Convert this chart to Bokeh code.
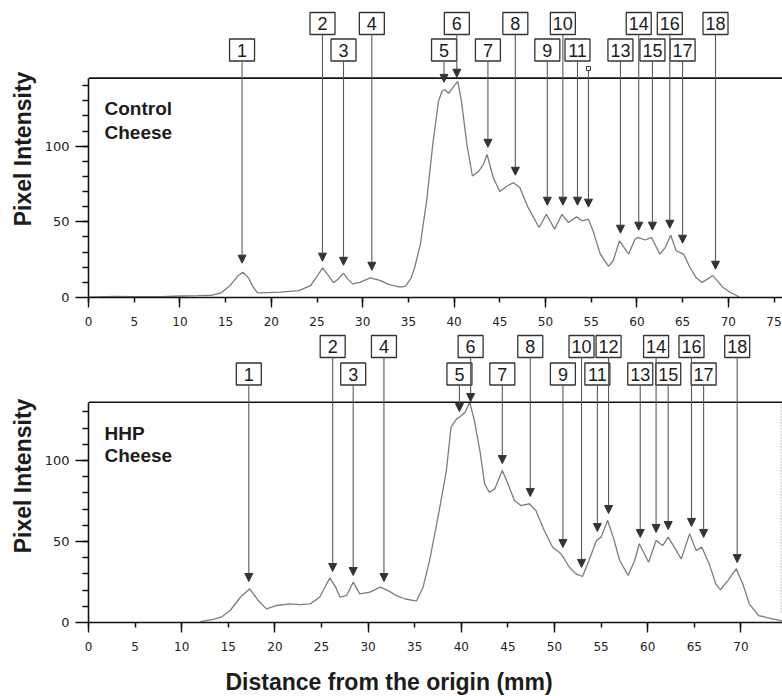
import math
from bokeh.plotting import figure
from bokeh.models import (ColumnDataSource, Range1d, FixedTicker, LinearAxis,
                          Span, Label, Arrow, NormalHead, Title)
from bokeh.core.properties import value
from bokeh.layouts import column
from bokeh.embed import file_html
from bokeh.resources import INLINE

# ---------------- data ----------------
ctrl_x = [0, 3, 5, 8, 10, 12, 13.5, 14.5, 15.5, 16.3, 16.9, 17.5, 18.0, 18.5, 19.5, 21, 23, 24.3,
          25.0, 25.6, 26.2, 26.8, 27.3, 27.9, 28.4, 28.9, 29.7, 30.8, 31.8, 32.9, 34.1, 34.7, 35.3,
          35.7, 36.3, 37.0, 37.7, 38.3, 38.7, 39.0, 39.4, 39.9, 40.4, 40.8, 41.4, 42.0, 42.7, 43.2,
          43.6, 44.3, 45.0, 45.8, 46.5, 47.2, 48.1, 49.3, 50.1, 51.0, 51.8, 52.5, 53.4, 54.0, 54.7,
          55.2, 56.0, 56.9, 57.4, 58.1, 59.1, 59.8, 60.1, 60.9, 61.6, 62.5, 63.1, 63.7, 64.3, 65.1,
          65.8, 66.5, 67.1, 67.8, 68.3, 68.8, 69.4, 70.2, 70.9, 71.2]
ctrl_y = [0.3, 0.8, 0.5, 0.6, 1.0, 1.2, 1.5, 3, 8, 14, 16.7, 13, 7, 3, 3.2, 3.5, 4.5, 7.9,
          14, 19.5, 15, 9.8, 12, 16, 12, 9, 10, 13, 11.5, 8.5, 6.8, 7.5, 13,
          20, 35, 64, 103, 130, 136.6, 137.3, 135, 139, 142.8, 130, 101, 80.3, 83.5, 88,
          94.5, 79, 70, 73.7, 75.9, 72.6, 59.4, 46.3, 55, 45.2, 55, 49.6, 53.3, 50.7, 51.8,
          44, 28.7, 20.6, 24.3, 37.5, 28.7, 38.6, 39.7, 38, 39.7, 28.7, 33, 41.2, 30.9, 28.7,
          20, 13, 10, 12.5, 14.5, 11, 6.8, 3.5, 1.3, 0.5]

hhp_x = [12.0, 13.4, 14.3, 15.2, 16.3, 17.3, 18.2, 19.1, 20.2, 21.6, 22.7, 23.8, 24.8, 25.9, 26.5,
         27.0, 27.7, 28.4, 29.1, 30.2, 31.3, 32.2, 33.0, 34.0, 34.8, 35.2, 35.9, 36.6, 37.5, 38.4,
         38.9, 39.5, 39.8, 40.4, 40.9, 41.4, 42.0, 42.5, 43.0, 43.6, 44.4, 45.0, 45.7, 46.4, 47.3,
         48.0, 48.9, 49.8, 50.7, 51.6, 52.3, 53.0, 53.7, 54.5, 55.0, 55.7, 56.3, 57.0, 57.9, 58.6,
         59.1, 60.1, 60.9, 61.6, 62.2, 63.6, 64.5, 65.2, 65.8, 66.6, 67.3, 67.8, 68.6, 69.5, 70.2,
         70.9, 71.9, 73.4, 74.4]
hhp_y = [0.5, 1.9, 3.5, 7.4, 15.6, 20.8, 13.6, 8.4, 10.5, 11.5, 11, 11.5, 15.6, 27.6, 22,
         15.6, 16.7, 24.9, 17.7, 18.7, 21.8, 19.5, 16.7, 14.5, 13.6, 13.4, 21.8, 38.3, 65, 93.8,
         120.6, 125.7, 126.7, 129.8, 136, 124.7, 106, 85.6, 80.4, 82.5, 93.8, 85.6, 75.3, 72.2, 73.3,
         69.1, 56.8, 46.5, 42.4, 34.1, 30, 28.4, 38.3, 50.6, 52.7, 63, 52.7, 38.3, 29, 38.3,
         48.6, 37.2, 50.6, 47.5, 52.7, 39.3, 54.7, 44.4, 46.5, 36.2, 23.9, 20.2, 25.9, 33.1, 23.9,
         11.5, 4.3, 2.3, 1.0]

peak_labels = [str(i) for i in range(1, 19)]

ctrl_peak_x = [16.8, 25.6, 27.9, 31.0, 38.9, 40.3, 43.7, 46.7, 50.2, 51.9, 53.5, 54.7,
               58.2, 60.2, 61.7, 63.6, 65.0, 68.6]
ctrl_tip_y = [22.7, 24.0, 21.3, 18.0, 142.2, 145.6, 99.3, 80.8, 61.0, 61.0, 61.0, 59.7,
              42.5, 44.5, 44.5, 45.8, 35.9, 18.7]
# 0 = upper row of boxes, 1 = lower row, -1 = no box (small marker only)
ctrl_row = [1, 0, 1, 0, 1, 0, 1, 0, 1, 0, 1, -1, 1, 0, 1, 0, 1, 0]

hhp_peak_x = [17.2, 26.2, 28.4, 31.7, 39.8, 41.0, 44.4, 47.4, 50.9, 52.9, 54.6, 55.8,
              59.2, 60.9, 62.2, 64.7, 66.0, 69.6]
hhp_tip_y = [25.3, 31.5, 29.0, 25.3, 130.2, 136.4, 98.1, 77.8, 46.3, 34.0, 56.2, 67.3,
             52.5, 55.6, 57.4, 59.3, 52.5, 37.0]
hhp_row = [1, 0, 1, 0, 1, 0, 1, 0, 1, 0, 1, 0, 1, 0, 1, 0, 1, 0]

ctrl_xticks = list(range(0, 80, 5))
hhp_xticks = list(range(0, 75, 5))
y_major = [0, 50, 100]
ctrl_ymax = 145
hhp_ymax = 136
ctrl_name = ["Control", "Cheese"]
hhp_name = ["HHP", "Cheese"]
x_title = "Distance from the origin (mm)"
y_title = "Pixel Intensity"

AX = "#111111"
TXT = "#1c1c1c"
FRAME_W = 694


def make_panel(cx, cy, px, tip, rows, ymax, xticks, xppu, ppu, frame_h, border_bottom,
               row_px, marker_px, name, name_base, xtitle_left_px=None, right_edge=False):
    y_end = frame_h / ppu
    x_end = FRAME_W / xppu
    p = figure(frame_width=FRAME_W, frame_height=frame_h, output_backend="svg",
               toolbar_location=None, x_range=Range1d(0, x_end), y_range=Range1d(0, y_end),
               min_border_left=88, min_border_right=0, min_border_top=0,
               min_border_bottom=border_bottom)
    p.outline_line_color = None
    p.xgrid.visible = False
    p.ygrid.visible = False
    p.background_fill_color = "white"
    p.border_fill_color = "white"

    # y axis
    ya = p.yaxis[0]
    ya.bounds = (0, ymax)
    ya.ticker = FixedTicker(ticks=y_major, minor_ticks=list(range(10, ymax, 10)))
    ya.major_tick_out = 13
    ya.major_tick_in = 0
    ya.minor_tick_out = 6
    ya.minor_tick_in = 0
    ya.major_label_standoff = 6
    ya.axis_label = y_title
    ya.axis_label_standoff = 6
    ya.axis_label_text_font = "Liberation Sans"
    ya.axis_label_text_font_style = "bold"
    ya.axis_label_text_font_size = "23px"
    ya.axis_label_text_color = TXT
    # x axis: labelled short ticks every 5, longer ticks every 10 (drawn as "minor")
    xa = p.xaxis[0]
    xa.ticker = FixedTicker(ticks=xticks, minor_ticks=xticks[::2])
    xa.major_tick_out = 5
    xa.major_tick_in = 0
    xa.minor_tick_out = 10
    xa.minor_tick_in = 0
    xa.major_label_standoff = 9
    for a in (xa, ya):
        a.axis_line_color = AX
        a.axis_line_width = 1.6
        a.major_tick_line_color = AX
        a.major_tick_line_width = 1.5
        a.minor_tick_line_color = AX
        a.minor_tick_line_width = 1.4
        a.major_label_text_font = "DejaVu Sans"
        a.major_label_text_color = "#222222"
    xa.major_label_text_font_size = "12px"
    ya.major_label_text_font_size = "13px"

    if xtitle_left_px is not None:
        # invisible spacer axis that pushes the x title further down
        spacer = LinearAxis(ticker=FixedTicker(ticks=[xticks[0]], minor_ticks=[]),
                            major_tick_out=13, major_tick_in=0, minor_tick_out=0,
                            minor_tick_in=0, major_label_standoff=0,
                            axis_line_color=None, major_tick_line_color=None,
                            minor_tick_line_color=None, major_label_text_color=None,
                            major_label_text_font_size="1px")
        p.add_layout(spacer, "below")
        p.add_layout(Title(text=x_title, align="left", offset=xtitle_left_px,
                           text_font="Liberation Sans", text_font_style="bold",
                           text_font_size="23px", text_color=TXT, standoff=0), "below")

    p.add_layout(Span(location=ymax, dimension="width", line_color=AX, line_width=1.6))

    if right_edge:
        p.segment(x0=[x_end - 0.15], y0=[6], x1=[x_end - 0.15], y1=[ymax],
                  line_color="#c4c4c4", line_width=1, line_dash="2 1")

    # profile
    p.line(cx, cy, line_color="#7c7c7c", line_width=1.3)

    # boxes and arrows
    def ydata(pix):
        return y_end - pix / ppu

    bx, by, bl, ax0, ay0, ax1, ay1, mx, my = [], [], [], [], [], [], [], [], []
    for x, t, r, lab in zip(px, tip, rows, peak_labels):
        if r >= 0:
            c = row_px[r]
            bx.append(x)
            by.append(ydata(c))
            bl.append(lab)
            start = ydata(c + 11)
        else:
            mx.append(x)
            my.append(ydata(marker_px))
            start = ydata(marker_px + 2)
        ax0.append(x)
        ay0.append(start)
        ax1.append(x)
        ay1.append(t)

    asrc = ColumnDataSource(dict(x0=ax0, y0=ay0, x1=ax1, y1=ay1))
    p.add_layout(Arrow(x_start="x0", y_start="y0", x_end="x1", y_end="y1", source=asrc,
                       line_color="#5a5a5a", line_width=1.1,
                       end=NormalHead(size=8, fill_color="#333333", line_color="#333333",
                                      line_width=1)))
    bsrc = ColumnDataSource(dict(x=bx, y=by, t=bl))
    p.rect("x", "y", width=25, height=22, width_units="screen", height_units="screen",
           source=bsrc, fill_color="white", line_color="#333333", line_width=1.3)
    p.text("x", "y", text="t", source=bsrc, text_align="center", text_baseline="middle",
           text_font=value("Liberation Sans"), text_font_size="18px", text_color=TXT)
    if mx:
        p.scatter(mx, my, marker="square", size=4, fill_color="white", line_color="#333333",
                  line_width=1)

    # sample name
    for txt, yb in zip(name, name_base):
        p.add_layout(Label(x=16, y=yb, x_units="screen", y_units="screen", text=txt,
                           text_font="Liberation Sans", text_font_style="bold",
                           text_font_size="19px", text_color=TXT, text_baseline="alphabetic"))
    return p


top = make_panel(ctrl_x, ctrl_y, ctrl_peak_x, ctrl_tip_y, ctrl_row, ctrl_ymax, ctrl_xticks,
                 9.14, 1.513, 297, 32, [23, 49.5], 68, ctrl_name, [189, 165.5])
bot = make_panel(hhp_x, hhp_y, hhp_peak_x, hhp_tip_y, hhp_row, hhp_ymax, hhp_xticks,
                 9.32, 1.62, 293, 74, [17, 44.5], 60, hhp_name, [189, 167],
                 xtitle_left_px=137, right_edge=True)

layout = column(top, bot, spacing=0)
open("out.html", "w").write(file_html(layout, INLINE))
